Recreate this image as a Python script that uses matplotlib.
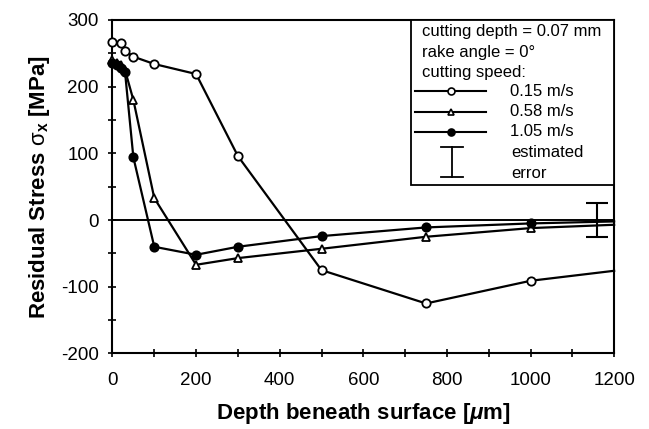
import numpy as np
import matplotlib
matplotlib.use("Agg")
import matplotlib.pyplot as plt
from matplotlib.lines import Line2D
from matplotlib.patches import Rectangle

plt.rcParams['font.family'] = ['Liberation Sans', 'DejaVu Sans']
plt.rcParams['mathtext.fontset'] = 'custom'
plt.rcParams['mathtext.rm'] = 'Liberation Sans'
plt.rcParams['mathtext.it'] = 'Liberation Sans:italic:bold'
plt.rcParams['mathtext.bf'] = 'Liberation Sans:bold'
plt.rcParams['axes.unicode_minus'] = False

# depth beneath surface [um] and residual stress [MPa]
depth_015 = [0, 20, 30, 50, 100, 200, 300, 500, 750, 1000, 1200]
stress_015 = [267, 265, 254, 245, 234, 219, 96, -75, -125, -91, -76]

depth_058 = [0, 10, 20, 30, 50, 100, 200, 300, 500, 750, 1000, 1200]
stress_058 = [240, 236, 232, 225, 180, 33, -67, -57, -43, -25, -12, -7]

depth_105 = [0, 10, 20, 30, 50, 100, 200, 300, 500, 750, 1000, 1200]
stress_105 = [236, 232, 228, 222, 94, -40, -52, -40, -24, -11, -5, -2]

err_x = 1158
err_y = 0
err_size = 26

legend_header = ['cutting depth = 0.07 mm', 'rake angle = 0°', 'cutting speed:']
speed_labels = ['0.15 m/s', '0.58 m/s', '1.05 m/s']

fig = plt.figure(figsize=(6.49, 4.29), dpi=100)
ax = fig.add_axes([0.1733, 0.176, 0.773, 0.7774])

ax.axhline(0, color='black', lw=1.4, zorder=1)

series = [
    (depth_015, stress_015, dict(marker='o', mfc='white', mec='black')),
    (depth_058, stress_058, dict(marker='^', mfc='white', mec='black')),
    (depth_105, stress_105, dict(marker='o', mfc='black', mec='black')),
]
for xs, ys, st in series:
    # last point is just where the line leaves the frame, no marker there
    ax.plot(xs, ys, color='black', lw=1.6, ms=6, mew=1.3,
            markevery=list(range(len(xs) - 1)), clip_on=False, zorder=3, **st)

ax.errorbar([err_x], [err_y], yerr=[err_size], color='black', lw=1.5,
            capsize=8, capthick=1.5, fmt='none', zorder=4)

ax.set_xlim(0, 1200)
ax.set_ylim(-200, 300)
ax.set_xticks(np.arange(0, 1201, 200))
ax.set_xticks(np.arange(0, 1201, 100), minor=True)
ax.set_yticks(np.arange(-200, 301, 100))
ax.set_yticks(np.arange(-200, 301, 50), minor=True)
ax.tick_params(which='both', direction='inout', length=6, width=1.2,
               labelsize=13.5, pad=7, top=False, right=False)
ax.tick_params(axis='x', pad=10)
for s in ax.spines.values():
    s.set_linewidth(1.5)

ax.set_xlabel(r'Depth beneath surface [$\mathit{\mu}$m]', fontsize=16,
              fontweight='bold', labelpad=9)
ax.set_ylabel(r'Residual Stress $\mathrm{σ}_\mathbf{x}$ [MPa]', fontsize=16,
              fontweight='bold', labelpad=6)

# legend box drawn by hand like the original
ax.add_patch(Rectangle((0.595, 0.505), 0.405, 0.495, transform=ax.transAxes,
                       fc='white', ec='black', lw=1.3, zorder=5))
tx = 0.617
ys_txt = [0.965, 0.904, 0.844]
for t, y in zip(legend_header, ys_txt):
    ax.text(tx, y, t, transform=ax.transAxes, fontsize=12, va='center',
            ha='left', zorder=6)
ys_leg = [0.787, 0.725, 0.665]
for (xs, ys, st), lab, y in zip(series, speed_labels, ys_leg):
    ax.add_line(Line2D([0.603, 0.745], [y, y], transform=ax.transAxes,
                       color='black', lw=1.5, zorder=6))
    ax.add_line(Line2D([0.675], [y], transform=ax.transAxes, ls='none',
                       ms=5, mew=1.2, zorder=7, **st))
    ax.text(0.793, y, lab, transform=ax.transAxes, fontsize=12,
            va='center', ha='left', zorder=6)
ax.add_line(Line2D([0.676, 0.676], [0.530, 0.620], transform=ax.transAxes,
                   color='black', lw=1.3, zorder=6))
for y in (0.530, 0.620):
    ax.add_line(Line2D([0.654, 0.698], [y, y], transform=ax.transAxes,
                       color='black', lw=1.3, zorder=6))
ax.text(0.795, 0.602, 'estimated', transform=ax.transAxes, fontsize=12,
        va='center', ha='left', zorder=6)
ax.text(0.795, 0.541, 'error', transform=ax.transAxes, fontsize=12,
        va='center', ha='left', zorder=6)

fig.savefig('out.png', dpi=100)
